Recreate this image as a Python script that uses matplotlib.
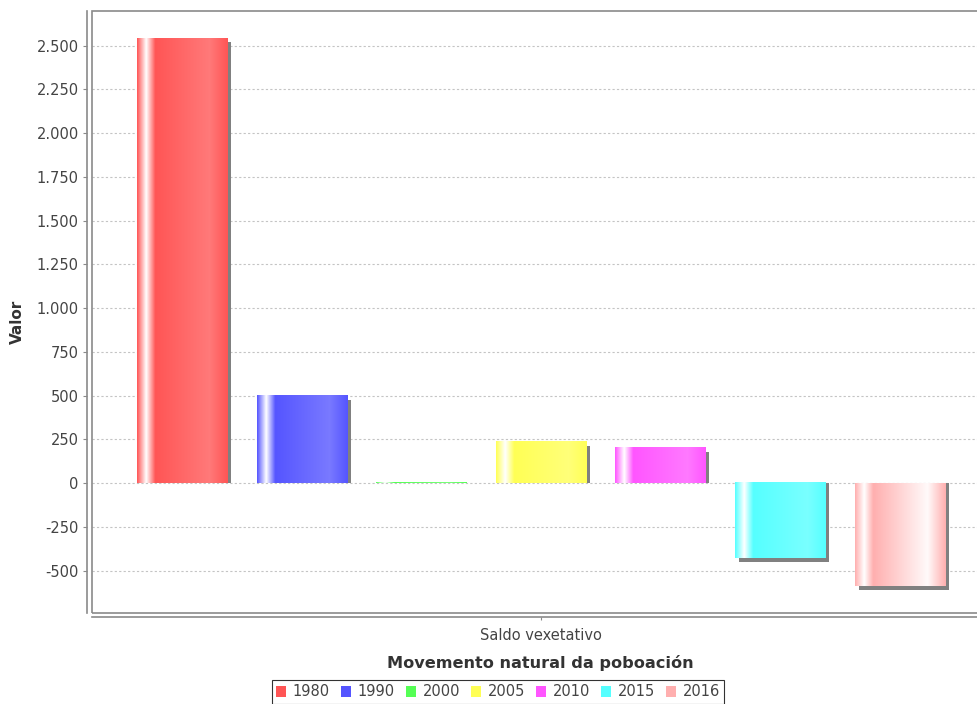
import numpy as np
import matplotlib
matplotlib.use("Agg")
import matplotlib.pyplot as plt
from matplotlib.patches import Rectangle, Patch

# data
years = ["1980", "1990", "2000", "2005", "2010", "2015", "2016"]
values = [2541, 500, 4, 237, 203, -430, -586]
colors = ["#FF5555", "#5555FF", "#55FF55", "#FFFF55", "#FF55FF", "#55FFFF", "#FFAFAF"]
category = "Saldo vexetativo"
y_ticks = list(range(-500, 2501, 250))

W, H = 978, 704
fig = plt.figure(figsize=(W / 100, H / 100), dpi=100)
plt.rcParams['font.family'] = ['DejaVu Sans']

# plot area in pixels: left 92, right 988 (beyond the image), top 11, bottom 613
left, right, top, bottom = 92, 988, 11, 613
ax = fig.add_axes([left / W, (H - bottom) / H, (right - left) / W, (bottom - top) / H])

span = max(values) - min(values)
ylo, yhi = min(values) - 0.05 * span, max(values) + 0.05 * span
xlo, xhi = -0.7525, 6.739
px_x = (right - left) / (xhi - xlo)
px_y = (bottom - top) / (yhi - ylo)
bar_w = 0.7525


def hex2rgb(h):
    return np.array([int(h[i:i + 2], 16) for i in (1, 3, 5)], dtype=float) / 255


def brighter(c):
    out = []
    for v in c * 255:
        if 0 < v < 3:
            v = 3
        out.append(min(v / 0.7, 255))
    return np.array(out) / 255


def gradient(c0, n=200):
    c1 = brighter(c0)
    white = np.ones(3)
    t = np.linspace(0, 1, n)
    img = np.zeros((n, 3))
    for i, f in enumerate(t):
        if f < 0.1:
            a = f / 0.1
            img[i] = c0 + (white - c0) * a
        elif f < 0.2:
            a = (f - 0.1) / 0.1
            img[i] = white + (c0 - white) * a
        elif f < 0.8:
            a = (f - 0.2) / 0.6
            img[i] = c0 + (c1 - c0) * a
        else:
            a = (f - 0.8) / 0.2
            img[i] = c1 + (c0 - c1) * a
    return img[np.newaxis, :, :]


# gridlines
for t in y_ticks:
    ax.axhline(t, color="#c4c4c4", lw=0.8, ls=(0, (2, 2)), zorder=0)

dx = 4 / px_x
dy = 4 / px_y
for i, (v, c) in enumerate(zip(values, colors)):
    x0 = i - bar_w / 2
    x1 = i + bar_w / 2
    # shadow, pegged at the base
    end = max(v - dy, 0) if v > 0 else v - dy
    if end != 0:
        ax.add_patch(Rectangle((x0 + dx, min(0, end)), bar_w, abs(end), color="#808080", lw=0, zorder=1))
    c0 = hex2rgb(c)
    ax.imshow(gradient(c0), extent=(x0, x1, min(0, v), max(0, v)), aspect="auto",
              interpolation="bilinear", zorder=2)

ax.set_xlim(xlo, xhi)
ax.set_ylim(ylo, yhi)

ax.set_yticks(y_ticks)
ax.set_yticklabels([f"{t:,}".replace(",", ".") for t in y_ticks])
ax.set_xticks([3])
ax.set_xticklabels([category])

for s in ["top", "right"]:
    ax.spines[s].set_visible(False)
ax.spines["left"].set_position(("outward", 5 * 0.72))
ax.spines["bottom"].set_position(("outward", 4 * 0.72))
for s in ["left", "bottom"]:
    ax.spines[s].set_color("#8a8a8a")
    ax.spines[s].set_linewidth(1.2)
ax.add_patch(Rectangle((0, 0), 1, 1, transform=ax.transAxes, fill=False,
                       ec="#8a8a8a", lw=1.2, clip_on=False, zorder=5))

ax.tick_params(axis="y", length=3, color="#8a8a8a", labelsize=10.5, labelcolor="#444444", pad=3)
ax.tick_params(axis="x", length=2, color="#8a8a8a", labelsize=10.5, labelcolor="#444444", pad=6)

fig.text(17 / W, 1 - 322 / H, "Valor", rotation=90, ha="center", va="center",
         fontsize=11, fontweight="bold", color="#333333")
fig.text(540 / W, 1 - 663 / H, "Movemento natural da poboación", ha="center", va="center",
         fontsize=11.6, fontweight="bold", color="#333333")

handles = [Patch(facecolor=c, edgecolor="none") for c in colors]
leg = fig.legend(handles, years, loc="center", bbox_to_anchor=(498 / W, 1 - 692 / H), ncol=7,
                 fontsize=10.5, frameon=True, fancybox=False, handlelength=0.7, handleheight=0.7,
                 handletextpad=0.45, columnspacing=0.75, borderpad=0.3, borderaxespad=0)
leg.get_frame().set_edgecolor("black")
leg.get_frame().set_linewidth(0.8)
for txt in leg.get_texts():
    txt.set_color("#444444")

fig.savefig("out.png", dpi=100)
